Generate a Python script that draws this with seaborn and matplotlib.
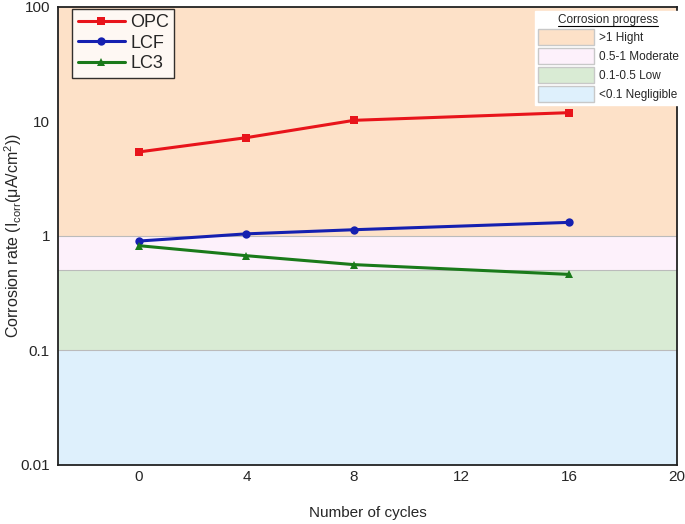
import pandas as pd
import matplotlib.pyplot as plt
import matplotlib.patches as mpatches
from matplotlib.lines import Line2D
from matplotlib.ticker import FixedLocator, FixedFormatter, NullLocator
import seaborn as sns

# Values
cycles = [0, 4, 8, 16]
opc = [5.4, 7.2, 10.2, 11.9]
lcf = [0.90, 1.04, 1.13, 1.31]
lc3 = [0.82, 0.67, 0.56, 0.46]

band_labels = [">1 Hight", "0.5-1 Moderate", "0.1-0.5 Low", "<0.1 Negligible"]
band_edges = [(1, 100), (0.5, 1), (0.1, 0.5), (0.01, 0.1)]
band_colors = ["#fde1c8", "#fdf1fb", "#d9ebd4", "#def0fc"]

y_ticks = [0.01, 0.1, 1, 10, 100]
y_tick_labels = ["0.01", "0.1", "1", "10", "100"]
x_ticks = [0, 4, 8, 12, 16, 20]

df = pd.DataFrame({
    "cycles": cycles * 3,
    "rate": opc + lcf + lc3,
    "mix": ["OPC"] * 4 + ["LCF"] * 4 + ["LC3"] * 4,
})

sns.set_style("white")
plt.rcParams["font.family"] = ["Liberation Sans", "DejaVu Sans"]
plt.rcParams["mathtext.default"] = "regular"

fig = plt.figure(figsize=(6.85, 5.24), dpi=100)
ax = fig.add_axes([0.085, 0.113, 0.903, 0.874])

# background bands
for (lo, hi), c in zip(band_edges, band_colors):
    ax.axhspan(lo, hi, color=c, zorder=0, lw=0)
for v in [0.1, 0.5, 1]:
    ax.axhline(v, color="#bbbbbb", lw=0.8, zorder=0.5)

sns.lineplot(data=df, x="cycles", y="rate", hue="mix", style="mix",
             palette={"OPC": "#e8141b", "LCF": "#1520b0", "LC3": "#1a7a1a"},
             markers={"OPC": "s", "LCF": "o", "LC3": "^"}, dashes=False,
             lw=2.2, markersize=6, markeredgewidth=0, ax=ax)

ax.set_yscale("log")
ax.set_ylim(0.01, 100)
ax.set_xlim(-3, 20)
ax.yaxis.set_major_locator(FixedLocator(y_ticks))
ax.yaxis.set_major_formatter(FixedFormatter(y_tick_labels))
ax.yaxis.set_minor_locator(NullLocator())
ax.set_xticks(x_ticks)
ax.tick_params(axis="y", labelsize=11, length=0, pad=6)
ax.tick_params(axis="x", labelsize=11, length=0, pad=4)

ax.set_xlabel("Number of cycles", fontsize=11)
ax.xaxis.set_label_coords(0.5, -0.09)
ax.set_ylabel("Corrosion rate (I$_{corr}$(\u03bcA/cm$^2$))", fontsize=11.5)
ax.yaxis.set_label_coords(-0.056, 0.5)

for sp in ax.spines.values():
    sp.set_color("#222222")
    sp.set_linewidth(1.3)

leg1 = ax.legend(loc="upper left", bbox_to_anchor=(0.02, 1.0), fontsize=13,
                 frameon=True, fancybox=False, edgecolor="black",
                 handlelength=2.6, borderpad=0.3, labelspacing=0.2,
                 handletextpad=0.3, borderaxespad=0.1)
leg1.get_frame().set_linewidth(1.0)
ax.add_artist(leg1)

band_handles = [mpatches.Patch(facecolor=c, edgecolor="#c8c8c8", label=l)
                for c, l in zip(band_colors, band_labels)]
leg2 = ax.legend(handles=band_handles, loc="upper right",
                 bbox_to_anchor=(1.012, 0.995), fontsize=8.5,
                 title="Corrosion progress", title_fontsize=8.5,
                 frameon=True, fancybox=False, edgecolor="white",
                 framealpha=1, handlelength=4.8, handleheight=1.7,
                 labelspacing=0.25, handletextpad=0.4, borderpad=0.25,
                 borderaxespad=0.2)

# underline the legend title
fig.canvas.draw()
bb = leg2.get_title().get_window_extent().transformed(fig.transFigure.inverted())
fig.add_artist(Line2D([bb.x0, bb.x1], [bb.y0 + 0.001, bb.y0 + 0.001],
                      color="black", lw=0.8, transform=fig.transFigure))

fig.savefig("out.png", dpi=100)
